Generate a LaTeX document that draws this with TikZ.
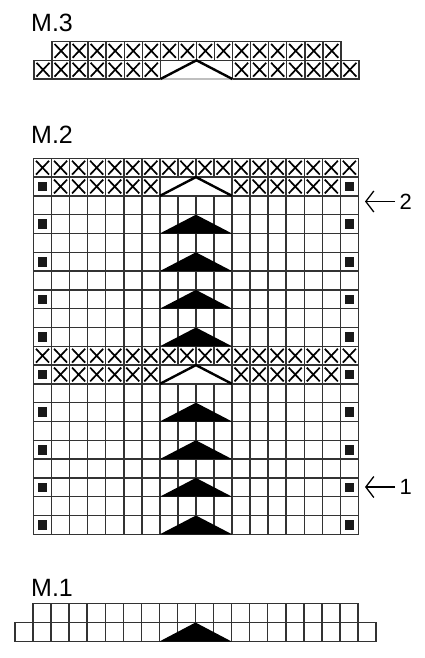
\documentclass[tikz,border=0pt]{standalone}
\usepackage{fontspec}
\setmainfont{Liberation Sans}
\usetikzlibrary{arrows.meta}
\tikzstyle{GridLine}=[draw=black!80, line width=1.5pt]
\tikzstyle{FaintLine}=[draw=black!25, line width=1.5pt]
\tikzstyle{CrossMark}=[draw=black, line width=1.7pt]
\tikzstyle{Chevron}=[draw=black, line width=2.4pt, line join=miter]
\tikzstyle{TriMark}=[fill=black]
\tikzstyle{SquareMark}=[fill=black!90]
\tikzstyle{ChartLabel}=[anchor=base west, inner sep=0pt, font=\fontsize{25}{30}\selectfont]
\tikzstyle{RowLabel}=[anchor=west, inner sep=0pt, font=\fontsize{22}{26}\selectfont]
\tikzstyle{RowArrow}=[draw=black, line width=1.3pt, -{Straight Barb[length=8pt, width=21pt]}]
\def\cw{18.05}
\def\rh{18.8}
\newcommand{\XMark}[2]{\draw[CrossMark] (#1+2.5,#2+2.5) -- (#1+\cw-2.5,#2+\rh-2.5) (#1+2.5,#2+\rh-2.5) -- (#1+\cw-2.5,#2+2.5);}
\newcommand{\SqMark}[2]{\fill[SquareMark] (#1+\cw/2-4.8,#2+\rh/2-4.8) rectangle ++(9.6,9.6);}
\newcommand{\TriPeak}[2]{\fill[TriMark] (#1,#2+\rh) -- (#1+2*\cw,#2) -- (#1+4*\cw,#2+\rh) -- cycle;}

\begin{document}
\begin{tikzpicture}[x=1pt, y=-1pt]
  \useasboundingbox (0,0) rectangle (425,658);

  % M.3
  \node (LabelMThree) [ChartLabel] at (31,31.7) {M.3};
  \def\xa{34}
  \def\ya{41.5}
  \foreach \col in {1,...,16} {
    \draw[GridLine] (\xa+\col*\cw,\ya) rectangle ++(\cw,\rh);
    \XMark{\xa+\col*\cw}{\ya}
  }
  \foreach \col in {0,...,6,11,12,...,17} {
    \draw[GridLine] (\xa+\col*\cw,\ya+\rh) rectangle ++(\cw,\rh);
    \XMark{\xa+\col*\cw}{\ya+\rh}
  }
  \draw[FaintLine] (\xa+7*\cw,\ya+2*\rh) -- (\xa+11*\cw,\ya+2*\rh);
  \draw[Chevron] (\xa+7*\cw,\ya+2*\rh) -- (\xa+9*\cw,\ya+\rh) -- (\xa+11*\cw,\ya+2*\rh);

  % M.2
  \node (LabelMTwo) [ChartLabel] at (31,143.3) {M.2};
  \def\xb{33.5}
  \def\yb{158.3}
  \foreach \row in {0,2,3,...,10,12,13,...,19} {
    \foreach \col in {0,...,17} {
      \draw[GridLine] (\xb+\col*\cw,\yb+\row*\rh) rectangle ++(\cw,\rh);
    }
  }
  \foreach \row in {1,11} {
    \foreach \col in {0,...,6,11,12,...,17} {
      \draw[GridLine] (\xb+\col*\cw,\yb+\row*\rh) rectangle ++(\cw,\rh);
    }
    \draw[GridLine] (\xb+7*\cw,\yb+\row*\rh) rectangle ++(4*\cw,\rh);
    \draw[Chevron] (\xb+7*\cw,\yb+\row*\rh+\rh) -- (\xb+9*\cw,\yb+\row*\rh) -- (\xb+11*\cw,\yb+\row*\rh+\rh);
    \foreach \col in {1,...,6,11,12,...,16} {
      \XMark{\xb+\col*\cw}{\yb+\row*\rh}
    }
  }
  \foreach \row in {0,10} {
    \foreach \col in {0,...,17} {
      \XMark{\xb+\col*\cw}{\yb+\row*\rh}
    }
  }
  \foreach \row in {1,3,...,19} {
    \SqMark{\xb}{\yb+\row*\rh}
    \SqMark{\xb+17*\cw}{\yb+\row*\rh}
  }
  \foreach \row in {3,5,7,9,13,15,17,19} {
    \TriPeak{\xb+7*\cw}{\yb+\row*\rh}
  }

  % row numbers
  \node (RowTwo) [RowLabel] at (399.5,201.5) {2};
  \coordinate (RowTwoTip) at (365,201.5);
  \draw[RowArrow, shorten <=4.5pt] (RowTwo.west) -- (RowTwoTip);
  \node (RowOne) [RowLabel] at (399.5,487) {1};
  \coordinate (RowOneTip) at (365,487);
  \draw[RowArrow, shorten <=4.5pt] (RowOne.west) -- (RowOneTip);

  % M.1
  \node (LabelMOne) [ChartLabel] at (31,596) {M.1};
  \def\xc{15}
  \def\yc{603.5}
  \foreach \col in {1,...,18} {
    \draw[GridLine] (\xc+\col*\cw,\yc) rectangle ++(\cw,19);
  }
  \foreach \col in {0,...,19} {
    \draw[GridLine] (\xc+\col*\cw,\yc+19) rectangle ++(\cw,19);
  }
  \fill[TriMark] (\xc+8*\cw,\yc+38) -- (\xc+10*\cw,\yc+19) -- (\xc+12*\cw,\yc+38) -- cycle;

\end{tikzpicture}
\end{document}
